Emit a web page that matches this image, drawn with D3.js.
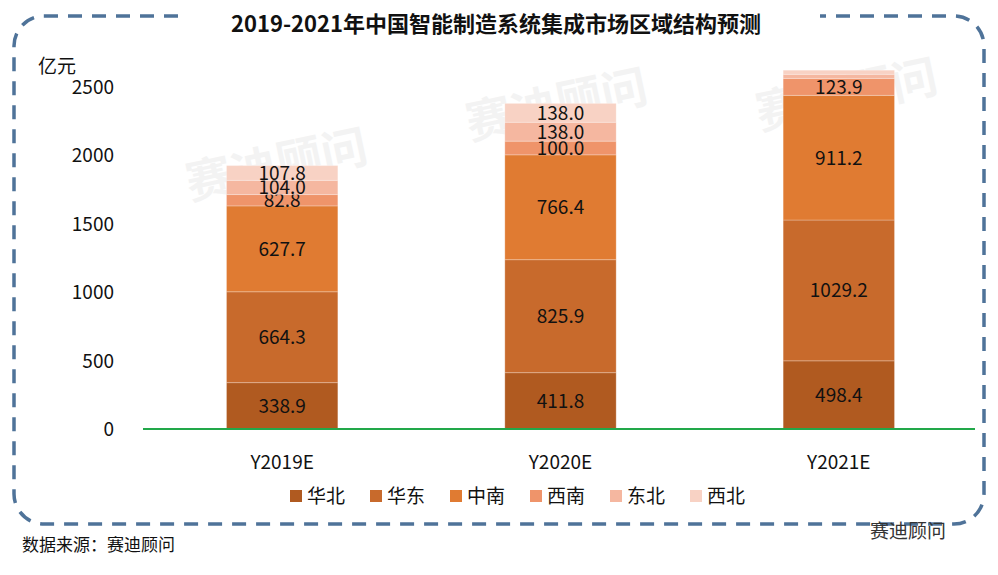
<!DOCTYPE html>
<html lang="zh">
<head>
<meta charset="utf-8">
<script src="https://d3js.org/d3.v7.min.js"></script>
<style>
  body { margin: 0; background: #fff; }
  text { font-family: "Noto Sans CJK SC", "Liberation Sans", sans-serif; }
</style>
</head>
<body>
<svg id="chart" width="998" height="575"></svg>
<script>
// Data
var years = ["Y2019E", "Y2020E", "Y2021E"];
var regions = ["华北", "华东", "中南", "西南", "东北", "西北"];
var huabei = [338.9, 411.8, 498.4];
var huadong = [664.3, 825.9, 1029.2];
var zhongnan = [627.7, 766.4, 911.2];
var xinan = [82.8, 100.0, 123.9];
var dongbei = [104.0, 138.0, 30];
var xibei = [107.8, 138.0, 30];
var yTicks = [0, 500, 1000, 1500, 2000, 2500];
var colors = ["#b05a20", "#c86a2c", "#e07b32", "#ef946a", "#f5b7a0", "#f8d2c4"];
var seriesValues = [huabei, huadong, zhongnan, xinan, dongbei, xibei];

var rows = years.map(function (y, i) {
  var r = { year: y };
  regions.forEach(function (k, j) { r[k] = seriesValues[j][i]; });
  return r;
});

var svg = d3.select("#chart");

// dashed rounded frame
svg.append("rect")
  .attr("x", 14).attr("y", 16).attr("width", 970).attr("height", 508)
  .attr("rx", 30).attr("fill", "none")
  .attr("stroke", "#4f7399").attr("stroke-width", 3.5)
  .attr("stroke-dasharray", "14,10");

// title box
svg.append("rect").attr("x", 180).attr("y", 0).attr("width", 640).attr("height", 46).attr("fill", "#fff");
svg.append("text").attr("x", 496).attr("y", 32).attr("text-anchor", "middle")
  .attr("font-size", 22).attr("font-weight", "bold").attr("fill", "#111")
  .text("2019-2021年中国智能制造系统集成市场区域结构预测");

// watermark
[[190, 200], [470, 140], [760, 130]].forEach(function (p) {
  svg.append("text").attr("x", p[0]).attr("y", p[1])
    .attr("transform", "rotate(-12," + p[0] + "," + p[1] + ")")
    .attr("font-size", 46).attr("font-weight", "bold").attr("fill", "#f3f3f3")
    .text("赛迪顾问");
});

var x = d3.scaleBand().domain(years).range([143, 978]).paddingInner(0.6).paddingOuter(0.3);
var y = d3.scaleLinear().domain([0, 2500]).range([429, 87]);

// y axis labels
svg.append("g").selectAll("text").data(yTicks).join("text")
  .attr("x", 114).attr("y", function (d) { return y(d) + 7; })
  .attr("text-anchor", "end").attr("font-size", 19).attr("fill", "#111")
  .text(function (d) { return d; });
svg.append("text").attr("x", 38).attr("y", 73).attr("font-size", 19).attr("fill", "#111").text("亿元");

var stacked = d3.stack().keys(regions)(rows);

var g = svg.append("g");
stacked.forEach(function (s, j) {
  g.append("g").attr("fill", colors[j]).selectAll("rect").data(s).join("rect")
    .attr("x", function (d) { return x(d.data.year); })
    .attr("width", x.bandwidth())
    .attr("y", function (d) { return y(d[1]); })
    .attr("height", function (d) { return y(d[0]) - y(d[1]); })
    .attr("stroke", "#fff").attr("stroke-opacity", 0.25);
  g.append("g").selectAll("text").data(s.filter(function (d) { return d[1] - d[0] > 60; })).join("text")
    .attr("x", function (d) { return x(d.data.year) + x.bandwidth() / 2; })
    .attr("y", function (d) { return (y(d[0]) + y(d[1])) / 2 + 7; })
    .attr("text-anchor", "middle").attr("font-size", 19).attr("fill", "#111")
    .text(function (d) { return (d[1] - d[0]).toFixed(1); });
});

// baseline
svg.append("line").attr("x1", 143).attr("x2", 975).attr("y1", y(0)).attr("y2", y(0))
  .attr("stroke", "#22a84a").attr("stroke-width", 2);

// x labels
svg.append("g").selectAll("text").data(years).join("text")
  .attr("x", function (d) { return x(d) + x.bandwidth() / 2; })
  .attr("y", 469).attr("text-anchor", "middle").attr("font-size", 19).attr("fill", "#111")
  .text(function (d) { return d; });

// legend
var lg = svg.append("g").selectAll("g").data(regions).join("g")
  .attr("transform", function (d, i) { return "translate(" + (290 + i * 80) + ",490)"; });
lg.append("rect").attr("width", 12).attr("height", 12).attr("fill", function (d, i) { return colors[i]; });
lg.append("text").attr("x", 17).attr("y", 13).attr("font-size", 19).attr("fill", "#111")
  .text(function (d) { return d; });

// source
svg.append("text").attr("x", 22).attr("y", 551).attr("font-size", 17).attr("fill", "#111").text("数据来源：赛迪顾问");
svg.append("text").attr("x", 870).attr("y", 538).attr("font-size", 19).attr("fill", "#333").text("赛迪顾问");
</script>
</body>
</html>
